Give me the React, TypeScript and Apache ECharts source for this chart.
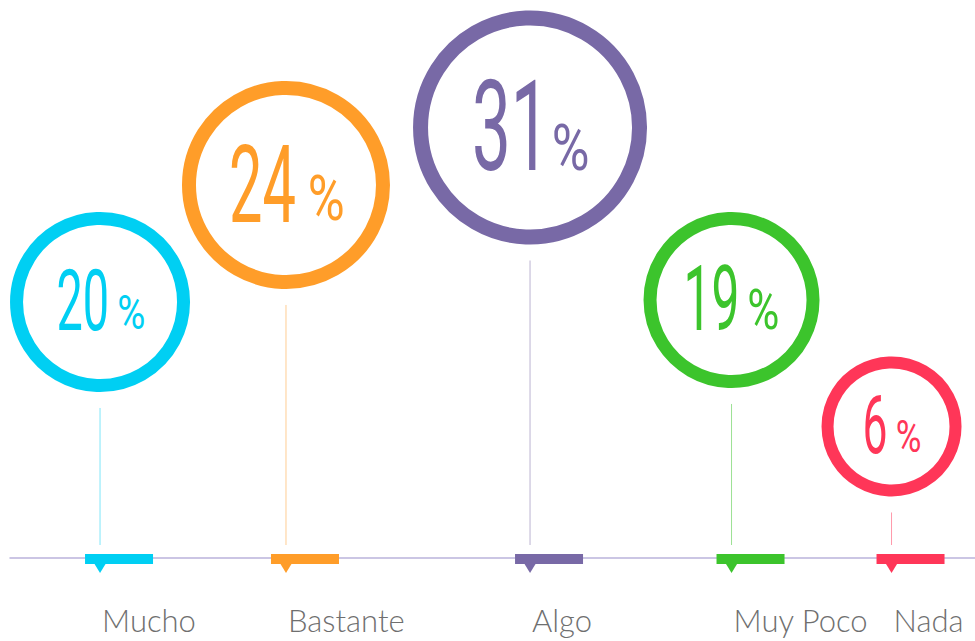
import React, { useEffect, useRef } from "react";
import * as echarts from "echarts";

// ---- data ----
const categories = ["Mucho", "Bastante", "Algo", "Muy Poco", "Nada"];
const percentages = [20, 24, 31, 19, 6];
const colors = ["#00cff3", "#ff9d29", "#7869a6", "#3cc42c", "#ff3658"];

// ---- layout (axis units for positions, px for sizes) ----
const slotX = [9.33, 28.6, 53.89, 74.77, 91.35];
const bubbleY = [45.88, 66.85, 77.15, 46.24, 23.57];
const bubbleRadius = [90, 104, 117, 88, 70];
const digitHeight = [63, 79, 93, 66, 59];
const percentHeight = [35, 46, 47, 40, 32];

const DIGIT_FONT = "Roboto";
const LABEL_FONT = "Lato";
const DIGIT_SCALE = 0.55;
const PCT_SCALE = 0.8;
const BASELINE_FIX = 0.1; // em shift between canvas 'middle' and svg 'central'

const ctx = document.createElement("canvas").getContext("2d") as CanvasRenderingContext2D;
function measure(text: string, font: string) {
  ctx.font = font;
  ctx.textBaseline = "middle";
  const m = ctx.measureText(text);
  return {
    left: m.actualBoundingBoxLeft,
    right: m.actualBoundingBoxRight,
    ascent: m.actualBoundingBoxAscent,
    descent: m.actualBoundingBoxDescent,
  };
}

export default function App() {
  const ref = useRef<HTMLDivElement>(null);
  useEffect(() => {
    document.body.style.margin = "0";
    const chart = echarts.init(ref.current!, null, { renderer: "svg" });
    const option: any = {
      animation: false,
      grid: { left: 10, right: 0, top: 0, bottom: 83 },
      xAxis: {
        type: "value",
        min: 0,
        max: 100,
        axisLine: { show: true, lineStyle: { color: "#bab3db", width: 1.5 } },
        axisTick: { show: false },
        axisLabel: { show: false },
        splitLine: { show: false },
      },
      yAxis: {
        type: "value",
        min: 0,
        max: 100,
        show: false,
      },
      series: [
        {
          type: "custom",
          clip: false,
          data: percentages.map((v, i) => [i, v]),
          renderItem: (params: any, api: any) => {
            const i = params.dataIndex;
            const v = api.value(1);
            const color = colors[i];
            const [px, baseY] = api.coord([slotX[i], 0]);
            const [cx, cy] = api.coord([slotX[i], bubbleY[i]]);
            const R = bubbleRadius[i];
            const w = Math.round(8 + R * 0.06);

            const H = digitHeight[i];
            const numText = String(v);
            const m = measure(numText, `400 100px ${DIGIT_FONT}`);
            const fsNum = (H * 100) / (m.ascent + m.descent);
            const kN = fsNum / 100;
            const numW = (m.left + m.right) * kN * DIGIT_SCALE;

            const PH = percentHeight[i];
            const p = measure("%", `400 100px ${DIGIT_FONT}`);
            const fsPct = (PH * 100) / (p.ascent + p.descent);
            const kP = fsPct / 100;
            const pctW = (p.left + p.right) * kP * PCT_SCALE;

            const gap = 0.2 * H;
            const total = numW + gap + pctW;
            const startX = cx - total / 2 + 1;
            const bottomY = cy - 2 + H / 2;

            const lm = measure("M", `300 31px ${LABEL_FONT}`);
            const labelBaseline = baseY + 75;

            return {
              type: "group",
              children: [
                {
                  type: "circle",
                  shape: { cx, cy, r: R - w / 2 },
                  style: { fill: "none", stroke: color, lineWidth: w },
                },
                {
                  type: "text",
                  x: startX + m.left * kN * DIGIT_SCALE,
                  y: bottomY - m.descent * kN - BASELINE_FIX * fsNum,
                  scaleX: DIGIT_SCALE,
                  style: {
                    text: numText,
                    font: `400 ${fsNum}px ${DIGIT_FONT}`,
                    fill: color,
                    align: "left",
                    verticalAlign: "middle",
                  },
                },
                {
                  type: "text",
                  x: startX + numW + gap + p.left * kP * PCT_SCALE,
                  y: bottomY - 1 - p.descent * kP - BASELINE_FIX * fsPct,
                  scaleX: PCT_SCALE,
                  style: {
                    text: "%",
                    font: `400 ${fsPct}px ${DIGIT_FONT}`,
                    fill: color,
                    align: "left",
                    verticalAlign: "middle",
                  },
                },
                {
                  type: "line",
                  shape: { x1: px, y1: cy + R + 16, x2: px, y2: baseY - 13 },
                  style: { stroke: color, lineWidth: 1, opacity: 0.5 },
                },
                {
                  type: "rect",
                  shape: { x: px - 15, y: baseY - 4, width: 68, height: 10 },
                  style: { fill: color },
                },
                {
                  type: "polygon",
                  shape: {
                    points: [
                      [px - 5.5, baseY + 6],
                      [px + 5.5, baseY + 6],
                      [px, baseY + 15],
                    ],
                  },
                  style: { fill: color },
                },
                {
                  type: "text",
                  x: px + 2,
                  y: labelBaseline - lm.descent - BASELINE_FIX * 31,
                  style: {
                    text: categories[i],
                    font: `300 31px ${LABEL_FONT}`,
                    fill: "#6f6f6f",
                    align: "left",
                    verticalAlign: "middle",
                  },
                },
              ],
            };
          },
        },
      ],
    };
    chart.setOption(option);
    return () => chart.dispose();
  }, []);
  return <div ref={ref} style={{ width: 975, height: 641 }} />;
}
